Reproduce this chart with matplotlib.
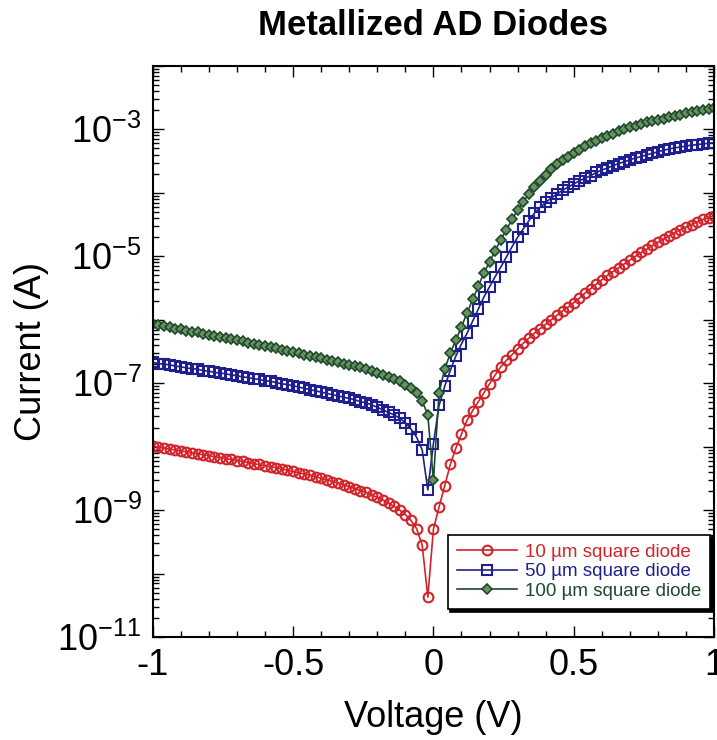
import numpy as np
import matplotlib
matplotlib.use('Agg')
import matplotlib.pyplot as plt
from matplotlib.ticker import LogLocator, FuncFormatter, MultipleLocator

plt.rcParams['font.family'] = ['Liberation Sans', 'DejaVu Sans']
plt.rcParams['mathtext.fontset'] = 'custom'
plt.rcParams['mathtext.rm'] = 'Liberation Sans'
plt.rcParams['mathtext.default'] = 'regular'

# voltage sweep (V), -1 .. 1 in 0.02 V steps
volts = np.round(np.arange(-1.0, 1.0001, 0.02), 2)

# log10 of current (A)
red_log = [-7.99, -8.01, -8.02, -8.04, -8.05, -8.07, -8.08, -8.10, -8.11, -8.13,
           -8.14, -8.16, -8.17, -8.19, -8.20, -8.22, -8.23, -8.25, -8.27, -8.28,
           -8.30, -8.32, -8.33, -8.35, -8.37, -8.39, -8.41, -8.43, -8.45, -8.47,
           -8.50, -8.52, -8.55, -8.57, -8.60, -8.63, -8.66, -8.69, -8.72, -8.76,
           -8.80, -8.84, -8.89, -8.94, -9.00, -9.07, -9.16, -9.29, -9.55, -10.37,
           -9.30,
           -8.95, -8.62, -8.28, -8.02, -7.80, -7.58, -7.43, -7.29, -7.15, -7.01,
           -6.87, -6.74, -6.64, -6.55, -6.46, -6.37, -6.29, -6.21, -6.14, -6.07,
           -6.00, -5.93, -5.86, -5.80, -5.73, -5.66, -5.58, -5.51, -5.44, -5.37,
           -5.30, -5.24, -5.18, -5.12, -5.06, -5.00, -4.94, -4.89, -4.83, -4.78,
           -4.73, -4.68, -4.63, -4.58, -4.54, -4.50, -4.46, -4.42, -4.39, -4.36]

blue_log = [-6.67, -6.69, -6.70, -6.71, -6.73, -6.74, -6.76, -6.77, -6.78, -6.80,
            -6.81, -6.83, -6.84, -6.85, -6.87, -6.88, -6.90, -6.91, -6.93, -6.94,
            -6.96, -6.97, -6.99, -7.01, -7.02, -7.04, -7.06, -7.08, -7.10, -7.12,
            -7.14, -7.16, -7.18, -7.20, -7.22, -7.24, -7.26, -7.29, -7.31, -7.34,
            -7.38, -7.42, -7.46, -7.50, -7.55, -7.62, -7.72, -7.85, -8.05, -8.68,
            -7.95,
            -7.35, -7.05, -6.80, -6.57, -6.38, -6.21, -6.02, -5.83, -5.64, -5.48,
            -5.32, -5.17, -5.01, -4.85, -4.70, -4.57, -4.44, -4.32, -4.23, -4.15,
            -4.08, -4.02, -3.96, -3.91, -3.86, -3.81, -3.77, -3.73, -3.68, -3.64,
            -3.61, -3.57, -3.54, -3.51, -3.48, -3.45, -3.43, -3.40, -3.38, -3.35,
            -3.33, -3.31, -3.29, -3.28, -3.26, -3.25, -3.24, -3.23, -3.22, -3.21]

green_log = [-6.07, -6.09, -6.10, -6.12, -6.14, -6.15, -6.17, -6.19, -6.20, -6.22,
             -6.24, -6.25, -6.27, -6.29, -6.30, -6.32, -6.34, -6.36, -6.38, -6.39,
             -6.41, -6.43, -6.45, -6.47, -6.49, -6.51, -6.53, -6.55, -6.57, -6.59,
             -6.61, -6.63, -6.65, -6.67, -6.69, -6.71, -6.73, -6.75, -6.78, -6.81,
             -6.84, -6.87, -6.90, -6.93, -6.97, -7.02, -7.08, -7.16, -7.28, -7.50,
             -8.53,
             -7.15, -6.78, -6.53, -6.32, -6.11, -5.89, -5.68, -5.47, -5.26, -5.09,
             -4.91, -4.74, -4.58, -4.42, -4.27, -4.14, -4.02, -3.91, -3.81, -3.72,
             -3.63, -3.55, -3.49, -3.43, -3.37, -3.32, -3.27, -3.22, -3.18, -3.14,
             -3.10, -3.07, -3.03, -3.00, -2.97, -2.95, -2.92, -2.89, -2.87, -2.85,
             -2.83, -2.81, -2.79, -2.77, -2.75, -2.73, -2.71, -2.69, -2.68, -2.66]

labels = ['10 \u00b5m square diode', '50 \u00b5m square diode', '100 \u00b5m square diode']
colors = ['#d2232a', '#1f1f8f', '#1d4a2c']

fig = plt.figure(figsize=(7.17, 7.40), dpi=100)
ax = fig.add_axes([0.213, 0.139, 0.783, 0.772])

ax.semilogy(volts, 10 ** np.array(red_log), '-', color=colors[0], lw=1.2,
            marker='o', ms=7, mfc='none', mec=colors[0], mew=1.5, label=labels[0])
ax.semilogy(volts, 10 ** np.array(blue_log), '-', color=colors[1], lw=1.2,
            marker='s', ms=6.5, mfc='none', mec=colors[1], mew=1.5, label=labels[1])
ax.semilogy(volts, 10 ** np.array(green_log), '-', color=colors[2], lw=1.2,
            marker='D', ms=5, mfc='#6a9160', mec=colors[2], mew=1.2, label=labels[2])

ax.set_xlim(-1, 1)
ax.set_ylim(1e-11, 1e-2)

ax.xaxis.set_major_locator(MultipleLocator(0.5))
ax.xaxis.set_minor_locator(MultipleLocator(0.1))
ax.xaxis.set_major_formatter(FuncFormatter(lambda v, p: f'{v:g}'))
ax.yaxis.set_major_locator(LogLocator(base=10, numticks=20))
ax.yaxis.set_minor_locator(LogLocator(base=10, subs=np.arange(2, 10), numticks=20))


def ylab(v, p):
    e = int(round(np.log10(v)))
    return r'$10^{%d}$' % e if e % 2 else ''


ax.yaxis.set_major_formatter(FuncFormatter(ylab))

ax.tick_params(which='both', direction='in', top=True, right=True, width=1)
ax.tick_params(which='major', length=8, labelsize=26, pad=8)
ax.tick_params(which='minor', length=4)
for s in ax.spines.values():
    s.set_linewidth(1.5)

ax.set_xlabel('Voltage (V)', fontsize=26, labelpad=12)
ax.set_ylabel('Current (A)', fontsize=26, labelpad=6)
ax.set_title('Metallized AD Diodes', fontsize=25, fontweight='bold', pad=22)

leg = ax.legend(loc='lower right', bbox_to_anchor=(0.993, 0.049), borderaxespad=0,
                fontsize=13.5, numpoints=1, handlelength=3.2, fancybox=False,
                edgecolor='black', framealpha=1, labelspacing=0.12,
                borderpad=0.5, handletextpad=0.4,
                shadow={'color': 'black', 'alpha': 1})
leg.get_frame().set_linewidth(1.2)
for txt, c in zip(leg.get_texts(), colors):
    txt.set_color(c)

fig.savefig('out.png', dpi=100)
